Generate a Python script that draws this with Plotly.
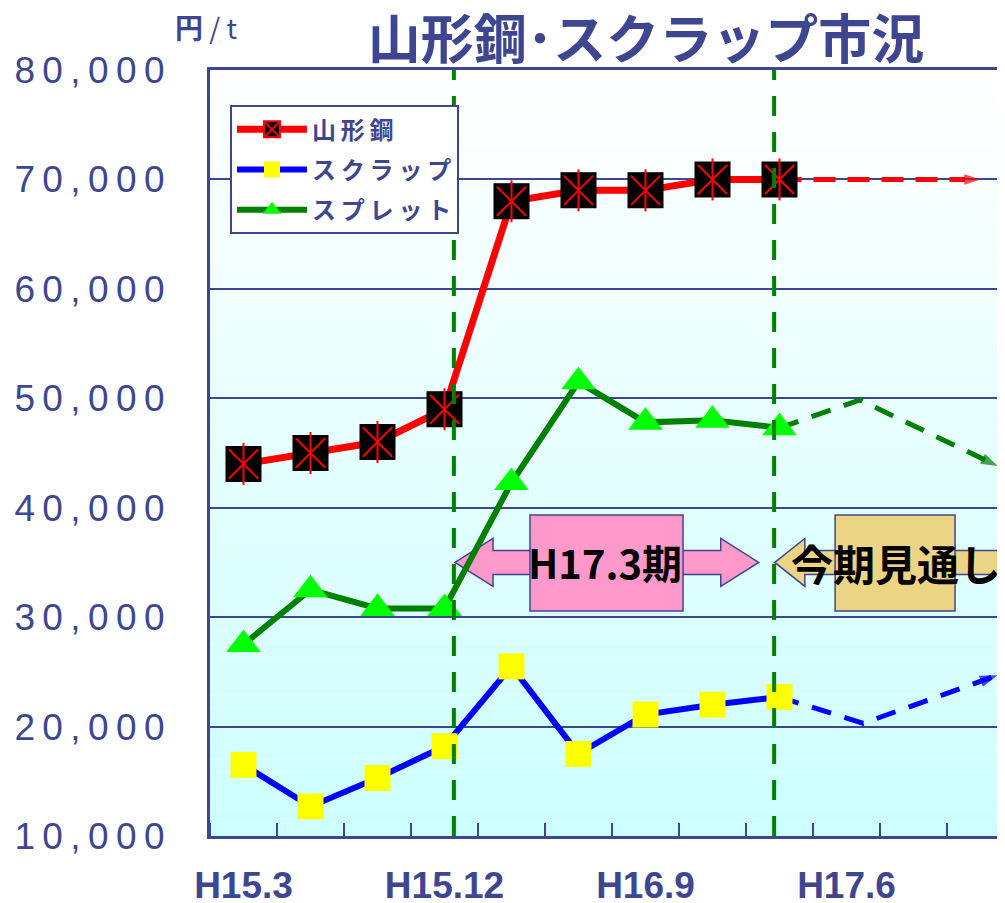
import plotly.graph_objects as go

# ── 色 ─────────────────────────────────────────────
NAVY = "#3f4691"
RED = "#ff0000"
BLUE = "#0000ff"
DKGREEN = "#008000"
LTGREEN = "#00ff00"
YELLOW = "#ffff00"
PINK = "#ff99cc"
TAN = "#ebd585"
JP_FONT = "Noto Sans CJK JP"
NUM_FONT = "Liberation Sans"

# ── データ ─────────────────────────────────────────
PERIODS = ["H15.3", "H15.6", "H15.9", "H15.12", "H16.3", "H16.6",
           "H16.9", "H16.12", "H17.3", "H17.6", "H17.9", "H17.12"]
ACTUAL_X = list(range(9))
STEEL = [44000, 45000, 46000, 49000, 68000, 69000, 69000, 70000, 70000]
SCRAP = [16500, 12700, 15300, 18200, 25500, 17500, 21100, 22000, 22700]
SPREAD = [27500, 32500, 30800, 30800, 42300, 51500, 47800, 48000, 47300]

# 今期見通し（破線）
STEEL_FC_X = [8, 11]
STEEL_FC = [70000, 70000]
SCRAP_FC_X = [8, 9.25, 11.26]
SCRAP_FC = [22700, 20300, 24700]
SPREAD_FC_X = [8, 9.2, 11.26]
SPREAD_FC = [47300, 49850, 43800]

Y_TICKS = [10000, 20000, 30000, 40000, 50000, 60000, 70000, 80000]
X_TICKS = [0, 3, 6, 9]

# 区切り線の位置（期のインデックス）
DIVIDERS = [3.14, 7.92]

# ページ本体の余白 (body margin 8px) の分だけ図を小さくする
OFF = 8
FIG_W, FIG_H = 1005 - OFF, 903 - OFF
PLOT_W = 1005 - 210
X_RANGE = [-0.5, -0.5 + PLOT_W / 67]


def spaced(s):
    return "\u2009".join(s)


def double_arrow(x0, x1, yc, head, hh, sh):
    pts = [(x0, yc), (x0 + head, yc + hh), (x0 + head, yc + sh),
           (x1 - head, yc + sh), (x1 - head, yc + hh), (x1, yc),
           (x1 - head, yc - hh), (x1 - head, yc - sh),
           (x0 + head, yc - sh), (x0 + head, yc - hh)]
    return "M" + "L".join(f"{x},{y}" for x, y in pts) + "Z"


fig = go.Figure()

# 見通し破線（先に描いてマーカーの下に）
fc_sets = [
    (STEEL_FC_X, STEEL_FC, RED, 5, 17, "22px,12px"),
    (SCRAP_FC_X, SCRAP_FC, BLUE, 5, 19, "20px,14px"),
    (SPREAD_FC_X, SPREAD_FC, DKGREEN, 5, 18, "20px,14px"),
]
for xs, ys, col, w, asz, dash in fc_sets:
    n = len(xs)
    fig.add_trace(go.Scatter(
        x=xs, y=ys, mode="lines+markers", showlegend=False,
        line=dict(color=col, width=w, dash=dash),
        marker=dict(symbol=["circle"] * (n - 1) + ["arrow"],
                    size=[0] * (n - 1) + [asz], angleref="previous",
                    color=col, line=dict(width=0)),
        hoverinfo="skip",
    ))

# 山形鋼
fig.add_trace(go.Scatter(
    x=ACTUAL_X, y=STEEL, name=spaced("山形鋼"), legendgroup="a",
    mode="lines+markers",
    line=dict(color=RED, width=7),
    marker=dict(symbol="square-x", size=33, color="black",
                line=dict(color=RED, width=2)),
))
fig.add_trace(go.Scatter(
    x=ACTUAL_X, y=STEEL, mode="markers", showlegend=False, legendgroup="a",
    marker=dict(symbol="square-open", size=33, color="black",
                line=dict(color="black", width=3)),
    hoverinfo="skip",
))
fig.add_trace(go.Scatter(
    x=ACTUAL_X, y=STEEL, mode="markers", showlegend=False, legendgroup="a",
    marker=dict(symbol="line-ns-open", size=30, color=RED,
                line=dict(color=RED, width=2)),
    hoverinfo="skip",
))

# スクラップ
fig.add_trace(go.Scatter(
    x=ACTUAL_X, y=SCRAP, name=spaced("スクラップ"), legendgroup="b",
    mode="lines+markers",
    line=dict(color=BLUE, width=6),
    marker=dict(symbol="square", size=26, color=YELLOW),
))

# スプレット
fig.add_trace(go.Scatter(
    x=ACTUAL_X, y=SPREAD, name=spaced("スプレット"), legendgroup="c",
    mode="lines+markers",
    line=dict(color=DKGREEN, width=6),
    marker=dict(symbol="triangle-up", size=30, color=LTGREEN),
))

shapes = []
# 背景グラデーション
N_BANDS = 60
for i in range(N_BANDS):
    r = round(255 - (255 - 204) * (i + 0.5) / N_BANDS)
    shapes.append(dict(
        type="rect", xref="x domain", yref="y domain", layer="below",
        x0=0, x1=1, y0=1 - (i + 1) / N_BANDS, y1=1 - i / N_BANDS,
        fillcolor=f"rgb({r},255,255)", line=dict(width=0),
    ))

# 期間の矢印と箱
ARROW_Y = 35000
for x0, x1, head, bx0, bx1, col in [
    (3.157, 7.69, 0.567, 4.276, 6.56, PINK),
    (7.93, 11.9, 0.448, 8.83, 10.62, TAN),
]:
    shapes.append(dict(
        type="path", xref="x", yref="y", layer="between",
        path=double_arrow(x0, x1, ARROW_Y, head, 2190, 1100),
        fillcolor=col, line=dict(color=NAVY, width=1.5),
    ))
    shapes.append(dict(
        type="rect", xref="x", yref="y", layer="between",
        x0=bx0, x1=bx1, y0=30570, y1=39340,
        fillcolor=col, line=dict(color=NAVY, width=1.5),
    ))

# 緑の区切り破線
for xv in DIVIDERS:
    shapes.append(dict(
        type="line", xref="x", yref="y domain", layer="above",
        x0=xv, x1=xv, y0=0, y1=1,
        line=dict(color=DKGREEN, width=4, dash="20px,16px"),
    ))

annotations = [
    dict(x=5.4, y=ARROW_Y, xref="x", yref="y", showarrow=False,
         text="<b>H17.3期</b>",
         font=dict(family=JP_FONT, size=40, color="black")),
    dict(x=9.74, y=ARROW_Y, xref="x", yref="y", showarrow=False,
         text="<b>今期見通し</b>",
         font=dict(family=JP_FONT, size=42, color="black")),
    dict(x=-37 / PLOT_W, y=1.056, xref="paper", yref="paper", xanchor="left",
         yanchor="middle", showarrow=False,
         text="<b>円</b> / t",
         font=dict(family=JP_FONT, size=28, color=NAVY)),
]

fig.update_layout(
    width=FIG_W, height=FIG_H,
    margin=dict(l=210 - OFF, r=0, t=70 - OFF, b=67),
    paper_bgcolor="white",
    plot_bgcolor="rgba(0,0,0,0)",
    title=dict(
        text="<b>山形鋼･スクラップ市況</b>",
        x=(646 - OFF) / FIG_W, xanchor="center", xref="container",
        y=1 - (40 - OFF) / FIG_H, yanchor="middle", yref="container",
        font=dict(family=JP_FONT, size=53, color=NAVY),
    ),
    xaxis=dict(
        range=X_RANGE, automargin=False,
        tickvals=X_TICKS, ticktext=[PERIODS[i] for i in X_TICKS],
        ticks="", showgrid=False, zeroline=False,
        showline=True, mirror=True, linecolor=NAVY, linewidth=3,
        tickfont=dict(family=NUM_FONT, size=37, color=NAVY, weight="bold"),
        ticklabelstandoff=15,
        minor=dict(tick0=-0.5, dtick=1, ticks="inside", ticklen=13,
                   tickwidth=2, tickcolor=NAVY, showgrid=False),
    ),
    yaxis=dict(
        range=[10000, 80000], automargin=False,
        tickvals=Y_TICKS, ticktext=[spaced(f"{v:,}") for v in Y_TICKS],
        ticks="", showgrid=True, gridcolor=NAVY, gridwidth=2,
        zeroline=False, showline=True, linecolor=NAVY, linewidth=3,
        tickfont=dict(family=NUM_FONT, size=37, color=NAVY),
        ticklabelstandoff=35,
    ),
    legend=dict(
        x=20 / PLOT_W, y=0.954, xanchor="left", yanchor="top",
        bgcolor="white", bordercolor=NAVY, borderwidth=2,
        font=dict(family=JP_FONT, size=24, color=NAVY, weight="bold"),
        traceorder="grouped", tracegroupgap=6, itemwidth=70,
    ),
    shapes=shapes,
    annotations=annotations,
)

fig.write_html("out.html")
